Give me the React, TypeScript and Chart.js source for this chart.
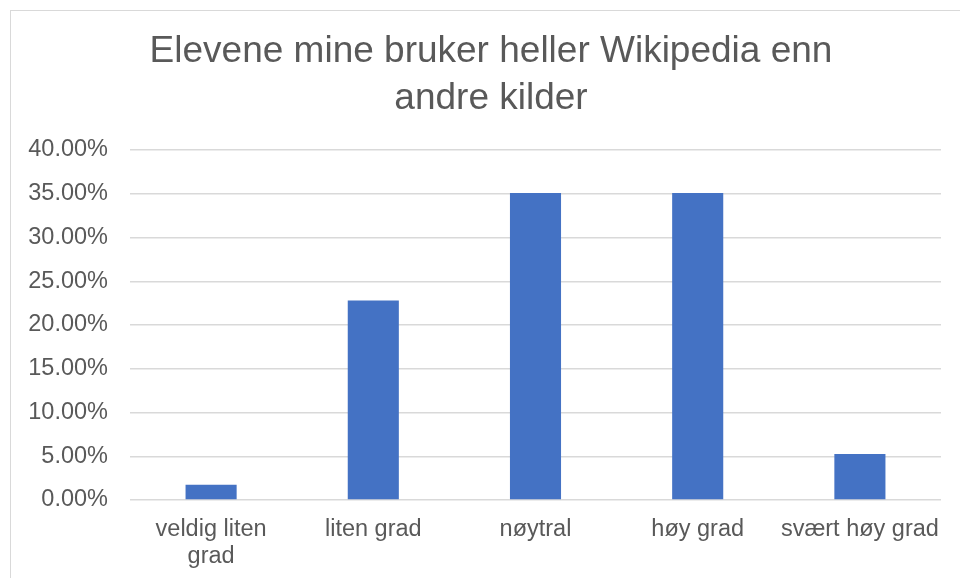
import React, { useEffect, useRef } from "react";
import { Chart, registerables } from "chart.js";

Chart.register(...registerables);

const titleLines = ["Elevene mine bruker heller Wikipedia enn", "andre kilder"];
const categories: string[][] = [
  ["veldig liten", "grad"],
  ["liten grad"],
  ["nøytral"],
  ["høy grad"],
  ["svært høy grad"],
];
const values = [1.75, 22.81, 35.09, 35.09, 5.26];
const yMin = 0;
const yMax = 40;
const yStep = 5;

const FONT = "'Liberation Sans', Arial, sans-serif";
const TEXT = "#595959";
const GRID = "#d9d9d9";

const titlePlugin = {
  id: "centredTitle",
  afterDraw(chart: any) {
    const ctx = chart.ctx;
    ctx.save();
    ctx.fillStyle = TEXT;
    ctx.font = `normal 37px ${FONT}`;
    ctx.textAlign = "center";
    ctx.textBaseline = "middle";
    titleLines.forEach((line, i) => {
      ctx.fillText(line, 491, 51.5 + i * 47);
    });
    ctx.restore();
  },
};

export default function App() {
  const ref = useRef<HTMLCanvasElement | null>(null);
  useEffect(() => {
    if (!ref.current) return;
    const chart = new Chart(ref.current, {
      type: "bar",
      data: {
        labels: categories,
        datasets: [
          {
            data: values,
            backgroundColor: "#4472C4",
            borderWidth: 0,
            barPercentage: 0.315,
            categoryPercentage: 1,
          },
        ],
      },
      plugins: [titlePlugin],
      options: {
        animation: false,
        responsive: false,
        maintainAspectRatio: false,
        layout: { padding: { left: 0, right: 19, top: 150, bottom: 0 } },
        plugins: {
          legend: { display: false },
          tooltip: { enabled: false },
          title: { display: false },
        },
        scales: {
          x: {
            grid: { display: false, drawTicks: false },
            border: { display: false },
            ticks: {
              color: TEXT,
              font: { family: FONT, size: 23.5, lineHeight: 1.13 },
              padding: 16.5,
              maxRotation: 0,
              autoSkip: false,
            },
            afterFit: (s: any) => {
              s.height = 78;
            },
          },
          y: {
            min: yMin,
            max: yMax,
            grid: { color: GRID, lineWidth: 1.5, drawTicks: false },
            border: { display: false },
            ticks: {
              stepSize: yStep,
              color: TEXT,
              font: { family: FONT, size: 23.5 },
              padding: 22,
              callback: (v: any) => Number(v).toFixed(2) + "%",
            },
            afterFit: (s: any) => {
              s.width = 130;
            },
          },
        },
      },
    });
    return () => chart.destroy();
  }, []);

  return (
    <div
      style={{
        position: "fixed",
        left: 0,
        top: 0,
        width: 960,
        height: 578,
        overflow: "hidden",
        background: "#fff",
      }}
    >
      <div
        style={{
          position: "absolute",
          left: 10,
          top: 10,
          width: 1000,
          height: 700,
          border: "1.5px solid #d9d9d9",
          boxSizing: "border-box",
        }}
      />
      <canvas
        ref={ref}
        width={960}
        height={578}
        style={{ position: "absolute", left: 0, top: 0, width: 960, height: 578 }}
      />
    </div>
  );
}
